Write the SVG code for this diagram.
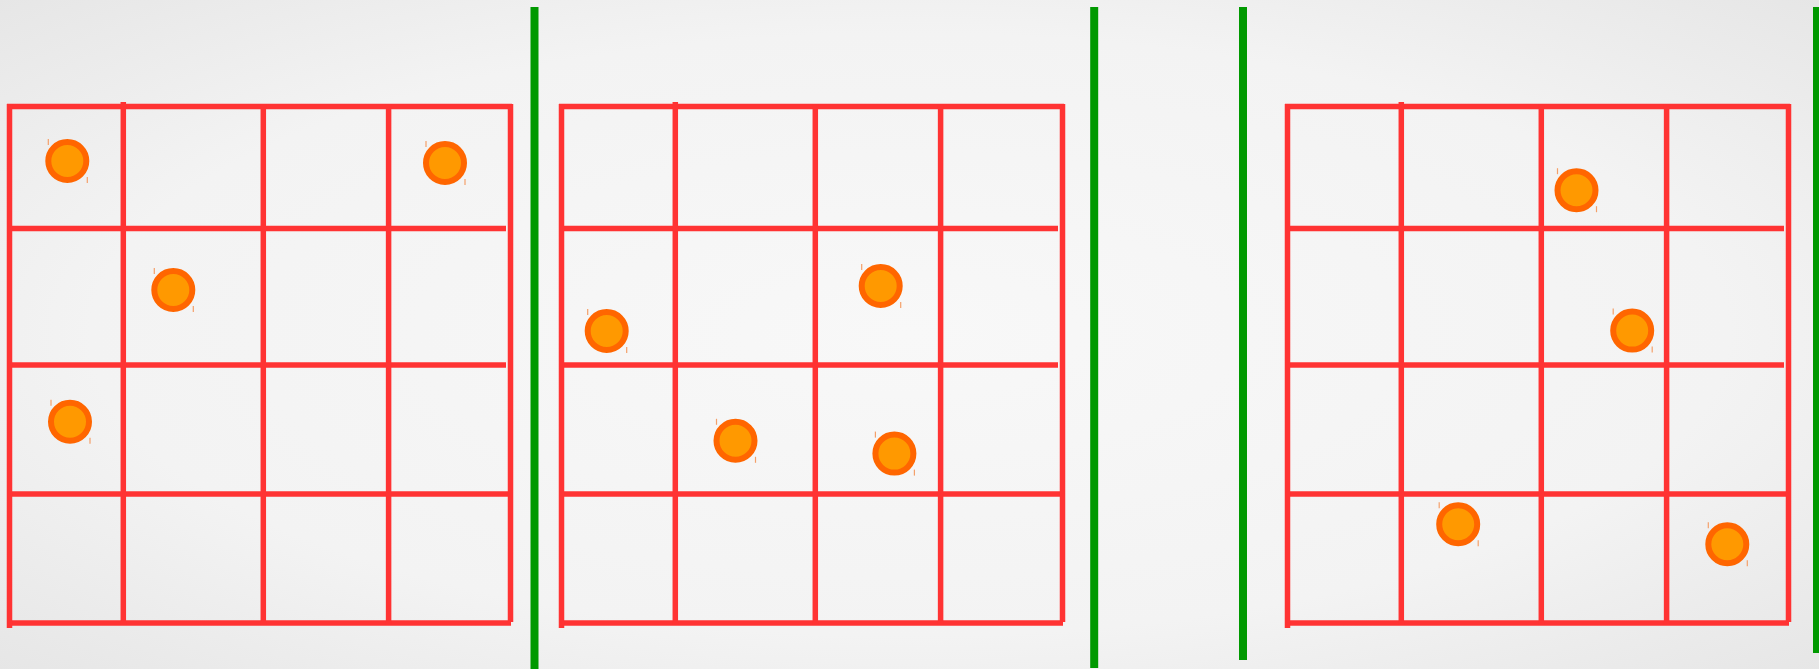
<svg xmlns="http://www.w3.org/2000/svg" width="1819" height="669" viewBox="0 0 1819 669">
<defs>
<radialGradient id="bg" cx="50%" cy="50%" r="75%">
<stop offset="0" stop-color="#f8f8f8"/>
<stop offset="0.6" stop-color="#f3f3f3"/>
<stop offset="1" stop-color="#e4e4e4"/>
</radialGradient>
<g id="dot">
<circle cx="0" cy="0" r="19" fill="#ff9900" stroke="#ff6600" stroke-width="6"/>
<line x1="-19" y1="-22" x2="-19" y2="-16" stroke="#f4a06a" stroke-width="1.2"/>
<line x1="20" y1="16" x2="20" y2="22" stroke="#f4a06a" stroke-width="1.2"/>
</g>
<g id="grid" stroke="#ff3333" stroke-width="5.5" fill="none">
<line x1="7" y1="106.5" x2="512" y2="106.5"/>
<line x1="12" y1="228.5" x2="506" y2="228.5"/>
<line x1="12" y1="365" x2="506" y2="365"/>
<line x1="12" y1="494" x2="511" y2="494"/>
<line x1="12" y1="623" x2="511" y2="623"/>
<line x1="9.5" y1="104" x2="9.5" y2="628"/>
<line x1="123.3" y1="102" x2="123.3" y2="625"/>
<line x1="263.3" y1="104" x2="263.3" y2="625"/>
<line x1="388.6" y1="104" x2="388.6" y2="625"/>
<line x1="510.5" y1="104" x2="510.5" y2="622"/>
</g>
</defs>
<style>
.sep{stroke:#009900;stroke-width:8}
</style>
<rect width="1819" height="669" fill="url(#bg)"/>
<g id="connectors">
<g id="grid1"><use href="#grid"/></g>
<g id="grid2"><use href="#grid" transform="translate(552,0)"/></g>
<g id="grid3"><use href="#grid" transform="translate(1278,0)"/></g>
<line class="sep" x1="534.5" y1="7" x2="534.5" y2="669"/>
<line class="sep" x1="1094.2" y1="7" x2="1094.2" y2="668"/>
<line class="sep" x1="1243" y1="7" x2="1243" y2="660"/>
<line class="sep" x1="1817" y1="7" x2="1817" y2="653"/>
</g>
<g id="p1"><use href="#dot" x="67.3" y="161"/></g>
<g id="p2"><use href="#dot" x="445" y="163"/></g>
<g id="p3"><use href="#dot" x="173.3" y="290"/></g>
<g id="p4"><use href="#dot" x="70" y="421.7"/></g>
<g id="p5"><use href="#dot" x="606.7" y="331"/></g>
<g id="p6"><use href="#dot" x="880.7" y="286"/></g>
<g id="p7"><use href="#dot" x="735.5" y="440.8"/></g>
<g id="p8"><use href="#dot" x="894.4" y="453.6"/></g>
<g id="p9"><use href="#dot" x="1576.5" y="190.2"/></g>
<g id="p10"><use href="#dot" x="1632.2" y="330.6"/></g>
<g id="p11"><use href="#dot" x="1458.2" y="524.3"/></g>
<g id="p12"><use href="#dot" x="1727.3" y="544.3"/></g>
</svg>
